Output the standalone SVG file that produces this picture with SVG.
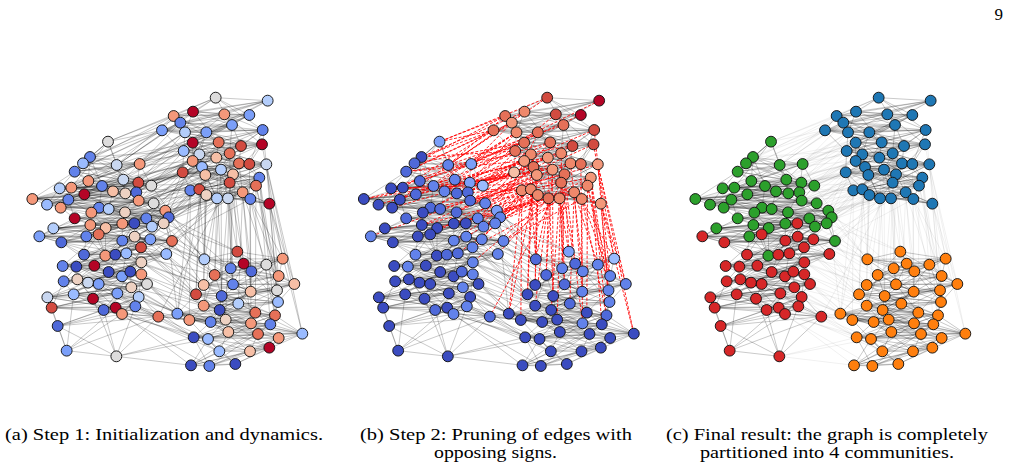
<svg xmlns="http://www.w3.org/2000/svg" xmlns:xlink="http://www.w3.org/1999/xlink" width="1010" height="470" viewBox="0 0 1010 470">
<style>
.nd{stroke:#111;stroke-width:2.8}
.k0{fill:#3b4cc0}.k1{fill:#4f69d9}.k2{fill:#6282ea}.k3{fill:#7b9ff9}.k4{fill:#9abbff}.k5{fill:#b3cdfb}.k6{fill:#c9d7f0}.k7{fill:#dddcdc}.k8{fill:#edd1c2}.k9{fill:#f6bfa6}.k10{fill:#f4987a}.q{fill:#ef886b}.k11{fill:#e57058}.k12{fill:#d24b40}.k13{fill:#b40426}
.cB{fill:#1f77b4}.cG{fill:#2ca02c}.cR{fill:#d62728}.cO{fill:#ff7f0e}
.e{fill:none;stroke:#000;stroke-opacity:.36;stroke-width:1.8}
.xr{fill:none;stroke:#f00;stroke-opacity:.95;stroke-width:2.7;stroke-dasharray:9 5}
.xf{fill:none;stroke:#000;stroke-opacity:.1;stroke-width:1.8}
.cap{font-family:"Liberation Serif","DejaVu Serif",serif;font-size:17px;fill:#000}
</style>
<defs>
<g id="eTR">
<path d="M596 38L752 47L528 80L470 93L622 88L697 90L490 113L645 120L435 136L504 142L568 142L737 135L527 173L605 172L672 183L735 178L500 198L547 208L638 205L527 228L598 218L666 235L697 237L748 238L555 246L612 254L648 268L497 262L565 270L727 278L638 293L717 302L520 316L547 313L568 330L600 340L633 340L677 322L700 342L757 356"/>
<path d="M596 38L528 80L622 88L490 113L435 136L568 142L527 173L672 183L500 198L638 205L598 218L697 237L555 246L648 268L565 270L638 293L520 316L568 330L633 340L700 342M752 47L470 93L697 90L645 120L504 142L737 135L605 172L735 178L547 208L527 228L666 235L748 238L612 254L497 262L727 278L717 302L547 313L600 340L677 322L757 356"/>
<path d="M596 38L470 93L490 113L504 142L527 173L735 178L638 205L666 235L555 246L497 262L638 293L547 313L633 340L757 356M752 47L622 88L645 120L568 142L605 172L500 198L527 228L697 237L612 254L565 270L717 302L568 330L677 322M528 80L697 90L435 136L737 135L672 183L547 208L598 218L748 238L648 268L727 278L520 316L600 340L700 342"/>
<path d="M596 38L697 90L568 142L735 178L598 218L612 254L638 293L600 340M752 47L490 113L737 135L500 198L666 235L648 268L717 302L633 340M528 80L645 120L527 173L547 208L697 237L497 262L520 316L677 322M470 93L435 136L605 172L638 205L748 238L565 270L547 313L700 342M622 88L504 142L672 183L527 228L555 246L727 278L568 330L757 356"/>
<path d="M596 38L645 120L672 183L666 235L565 270L600 340M752 47L435 136L735 178L697 237L727 278L633 340M528 80L504 142L500 198L748 238L638 293L677 322M470 93L568 142L547 208L555 246L717 302L700 342M622 88L737 135L638 205L612 254L520 316L757 356M697 90L527 173L527 228L648 268L547 313M490 113L605 172L598 218L497 262L568 330"/>
<path d="M596 38L737 135L697 237L547 313M752 47L527 173L748 238L568 330M528 80L605 172L555 246L600 340M470 93L672 183L612 254L633 340M622 88L735 178L648 268L677 322M697 90L500 198L497 262L700 342M490 113L547 208L565 270L757 356M645 120L638 205L727 278M435 136L527 228L638 293M504 142L598 218L717 302M568 142L666 235L520 316"/>
</g>
<g id="eO">
<path d="M661 500L562 523L680 536L797 521L641 550L703 559L748 539L593 570L785 573L648 598L560 600L832 597L701 620L780 616L614 633L537 628L783 651L664 656L560 662L608 675L715 683L774 691L481 686L517 705L581 711L626 704L702 715L760 718L856 746L634 741L723 747L530 757L573 762L785 759L607 799L699 799L757 788L522 841L577 843L655 837"/>
<path d="M661 500L680 536L641 550L748 539L785 573L560 600L701 620L614 633L783 651L560 662L715 683L481 686L581 711L702 715L856 746L723 747L573 762L607 799L757 788L577 843M562 523L797 521L703 559L593 570L648 598L832 597L780 616L537 628L664 656L608 675L774 691L517 705L626 704L760 718L634 741L530 757L785 759L699 799L522 841L655 837"/>
<path d="M661 500L797 521L748 539L648 598L701 620L537 628L560 662L774 691L581 711L760 718L723 747L785 759L757 788L655 837M562 523L641 550L593 570L560 600L780 616L783 651L608 675L481 686L626 704L856 746L530 757L607 799L522 841M680 536L703 559L785 573L832 597L614 633L664 656L715 683L517 705L702 715L634 741L573 762L699 799L577 843"/>
<path d="M661 500L703 559L560 600L537 628L715 683L626 704L723 747L699 799M562 523L748 539L832 597L783 651L774 691L702 715L530 757L757 788M680 536L593 570L701 620L664 656L481 686L760 718L573 762L522 841M797 521L785 573L780 616L560 662L517 705L856 746L785 759L577 843M641 550L648 598L614 633L608 675L581 711L634 741L607 799L655 837"/>
<path d="M661 500L593 570L614 633L774 691L856 746L699 799M562 523L785 573L537 628L481 686L634 741L757 788M680 536L648 598L783 651L517 705L723 747L522 841M797 521L560 600L664 656L581 711L530 757L577 843M641 550L832 597L560 662L626 704L573 762L655 837M703 559L701 620L608 675L702 715L785 759M748 539L780 616L715 683L760 718L607 799"/>
<path d="M661 500L832 597L481 686L785 759M562 523L701 620L517 705L607 799M680 536L780 616L581 711L699 799M797 521L614 633L626 704L757 788M641 550L537 628L702 715L522 841M703 559L783 651L760 718L577 843M748 539L664 656L856 746L655 837M593 570L560 662L634 741M785 573L608 675L723 747M648 598L715 683L530 757M560 600L774 691L573 762"/>
</g>
<g id="eL">
<path d="M273 170L219 216L198 235L299 240L368 237L173 260L214 288L319 284L364 293L403 302L128 310L163 308L255 303L288 319L325 325L358 322L46 342L90 359L154 344L202 328L365 347L410 355L131 368L246 368L275 372L223 383L324 382L445 377L455 397L173 400L388 400L440 415L220 420L316 416L405 425L109 430L266 429L208 454L465 468L265 512L67 454L245 448L352 415L133 472L316 467L353 455L400 463L372 487L201 509L295 509L328 505L448 507L137 543L178 545L232 542L373 532L275 561L315 574L340 560L373 568L140 589L181 583L213 593L245 597L390 597L343 607L91 637L170 628L228 641L301 625L365 636L104 668L260 675L296 668L355 664L315 687L424 695L122 723L149 797L298 814"/>
<path d="M273 170L198 235L368 237L214 288L364 293L128 310L255 303L325 325L46 342L154 344L365 347L131 368L275 372L324 382L455 397L388 400L220 420L405 425L266 429L465 468L67 454L352 415L316 467L400 463L201 509L328 505L137 543L232 542L275 561L340 560L140 589L213 593L390 597L91 637L228 641L365 636L260 675L355 664L424 695L149 797M219 216L299 240L173 260L319 284L403 302L163 308L288 319L358 322L90 359L202 328L410 355L246 368L223 383L445 377L173 400L440 415L316 416L109 430L208 454L265 512L245 448L133 472L353 455L372 487L295 509L448 507L178 545L373 532L315 574L373 568L181 583L245 597L343 607L170 628L301 625L104 668L296 668L315 687L122 723L298 814"/>
<path d="M273 170L299 240L214 288L403 302L255 303L358 322L154 344L410 355L275 372L445 377L388 400L316 416L266 429L265 512L352 415L353 455L201 509L448 507L232 542L315 574L140 589L245 597L91 637L301 625L260 675L315 687L149 797M219 216L368 237L319 284L128 310L288 319L46 342L202 328L131 368L223 383L455 397L440 415L405 425L208 454L67 454L133 472L400 463L295 509L137 543L373 532L340 560L181 583L390 597L170 628L365 636L296 668L424 695L298 814M198 235L173 260L364 293L163 308L325 325L90 359L365 347L246 368L324 382L173 400L220 420L109 430L465 468L245 448L316 467L372 487L328 505L178 545L275 561L373 568L213 593L343 607L228 641L104 668L355 664L122 723"/>
<path d="M273 170L173 260L128 310L358 322L365 347L223 383L388 400L109 430L67 454L353 455L328 505L373 532L140 589L343 607L365 636L315 687M219 216L214 288L163 308L46 342L410 355L324 382L440 415L266 429L245 448L400 463L448 507L275 561L181 583L91 637L104 668L424 695M198 235L319 284L255 303L90 359L131 368L445 377L220 420L208 454L352 415L372 487L137 543L315 574L213 593L170 628L260 675L122 723M299 240L364 293L288 319L154 344L246 368L455 397L316 416L465 468L133 472L201 509L178 545L340 560L245 597L228 641L296 668L149 797M368 237L403 302L325 325L202 328L275 372L173 400L405 425L265 512L316 467L295 509L232 542L373 568L390 597L301 625L355 664L298 814"/>
<path d="M273 170L319 284L325 325L410 355L455 397L109 430L352 415L295 509L275 561L245 597L365 636L122 723M219 216L364 293L358 322L131 368L173 400L266 429L133 472L328 505L315 574L390 597L104 668L149 797M198 235L403 302L46 342L246 368L388 400L208 454L316 467L448 507L340 560L343 607L260 675L298 814M299 240L128 310L90 359L275 372L440 415L465 468L353 455L137 543L373 568L91 637L296 668M368 237L163 308L154 344L223 383L220 420L265 512L400 463L178 545L140 589L170 628L355 664M173 260L255 303L202 328L324 382L316 416L67 454L372 487L232 542L181 583L228 641L315 687M214 288L288 319L365 347L445 377L405 425L245 448L201 509L373 532L213 593L301 625L424 695"/>
<path d="M273 170L163 308L131 368L316 416L316 467L373 532L91 637L122 723M219 216L255 303L246 368L405 425L353 455L275 561L170 628L149 797M198 235L288 319L275 372L109 430L400 463L315 574L228 641L298 814M299 240L325 325L223 383L266 429L372 487L340 560L301 625M368 237L358 322L324 382L208 454L201 509L373 568L365 636M173 260L46 342L445 377L465 468L295 509L140 589L104 668M214 288L90 359L455 397L265 512L328 505L181 583L260 675M319 284L154 344L173 400L67 454L448 507L213 593L296 668M364 293L202 328L388 400L245 448L137 543L245 597L355 664M403 302L365 347L440 415L352 415L178 545L390 597L315 687M128 310L410 355L220 420L133 472L232 542L343 607L424 695"/>
</g>
<path id="xTL" d="M435 136L273 170M470 93L273 170M490 113L299 240M504 142L368 237M500 198L219 216M527 173L198 235M527 228L173 260M497 262L364 293M555 246L403 302M520 316L163 308M547 208L403 302M565 270L255 303M547 313L325 325M598 218L358 322M568 330L365 347M612 254L410 355M600 340L445 377M638 293L128 310M648 268L455 397M638 205L324 382M666 235L202 328M605 172L388 400M568 142L440 415M528 80L154 344M633 340L316 416M677 322L405 425M700 342L465 468M748 238L275 372M727 278L246 368M697 237L46 342M520 316L245 448M568 330L353 455M600 340L448 507M555 246L352 415M565 270L400 463M547 313L372 487M497 262L131 368M527 228L90 359M638 293L424 695M612 254L220 420M717 302L266 429M500 198L288 319M527 173L214 288M435 136L173 260M504 142L202 328M547 208L223 383M697 90L368 237M645 120L299 240M737 135L364 293M672 183L403 302M735 178L365 347M596 38L273 170M596 38L299 240M752 47L368 237M528 80L219 216M470 93L198 235M622 88L364 293M490 113L173 260M435 136L219 216M435 136L163 308M504 142L255 303M568 142L319 284M527 173L128 310M605 172L288 319M500 198L154 344M500 198L403 302M547 208L358 322M527 228L325 325M527 228L410 355M598 218L246 368M555 246L202 328M497 262L403 302M497 262L365 347M497 262L445 377M565 270L324 382M520 316L445 377M520 316L388 400M520 316L440 415M547 313L405 425M568 330L220 420M600 340L266 429M555 246L388 400M612 254L455 397M638 293L440 415M633 340L465 468M568 330L328 505M600 340L373 532M547 313L316 467M565 270L67 454M638 205L255 303M672 183L173 260M697 237L364 293M648 268L365 347M727 278L405 425M717 302L352 415M677 322L372 487M598 218L46 342M605 172L128 310M504 142L364 293M490 113L368 237M470 93L299 240"/>
<path id="xTO" d="M600 340L562 523M633 340L661 500M638 293L680 536M677 322L748 539M700 342L797 521M757 356L832 597M717 302L785 573M727 278L780 616M648 268L641 550M612 254L593 570M568 330L560 600M565 270L481 686M666 235L703 559M697 237L701 620M748 238L783 651M735 178L797 521M737 135L785 573M638 205L648 598M598 218L614 633M555 246L537 628M700 342L774 691M757 356L856 746M717 302L715 683M677 322L664 656M633 340L608 675M600 340L560 662M727 278L760 718M638 293L626 704M648 268L702 715M748 238L832 597M520 316L517 705M547 313L562 523M568 330L562 523M520 316L481 686M600 340L593 570M633 340L648 598M700 342L785 573M757 356L783 651M677 322L701 620M638 293L641 550M717 302L780 616M727 278L774 691M748 238L856 746M565 270L560 600M547 313L537 628M612 254L614 633M648 268L661 500M700 342L702 715"/>
<path id="xLO" d="M445 377L481 686M455 397L562 523M465 468L560 600M448 507L537 628M424 695L481 686M424 695L517 705M372 487L560 662M373 532L560 600M373 568L537 628M390 597L481 686M365 636L530 757M355 664L517 705M315 687L522 841M298 814L522 841M298 814L530 757M260 675L573 762M343 607L560 662M328 505L593 570M400 463L562 523M440 415L661 500M405 425L641 550M353 455L537 628M316 467L614 633M301 625L581 711M390 597L634 741M296 668L607 799M410 355L562 523M403 302L593 570M352 415L648 598M315 574L608 675M228 641L577 843M91 637L517 705M178 545L481 686M213 593L530 757M316 416L560 600M295 509L517 705M275 561L481 686M465 468L562 523M448 507L560 600M400 463L593 570M372 487L537 628M373 532L560 662M390 597L517 705M424 695L530 757M424 695L581 711M365 636L481 686M355 664L573 762M315 687L530 757M298 814L573 762M343 607L481 686M373 568L560 662M455 397L661 500M440 415L593 570M445 377L641 550M328 505L537 628M353 455L562 523M295 509L560 600"/>
<g id="NT"><circle cx="596" cy="38" r="16.3"/><circle cx="752" cy="47" r="16.3"/><circle cx="528" cy="80" r="16.3"/><circle cx="470" cy="93" r="16.3"/><circle cx="622" cy="88" r="16.3"/><circle cx="697" cy="90" r="16.3"/><circle cx="490" cy="113" r="16.3"/><circle cx="645" cy="120" r="16.3"/><circle cx="435" cy="136" r="16.3"/><circle cx="504" cy="142" r="16.3"/><circle cx="568" cy="142" r="16.3"/><circle cx="737" cy="135" r="16.3"/><circle cx="527" cy="173" r="16.3"/><circle cx="605" cy="172" r="16.3"/><circle cx="672" cy="183" r="16.3"/><circle cx="735" cy="178" r="16.3"/><circle cx="500" cy="198" r="16.3"/><circle cx="547" cy="208" r="16.3"/><circle cx="638" cy="205" r="16.3"/><circle cx="527" cy="228" r="16.3"/><circle cx="598" cy="218" r="16.3"/><circle cx="666" cy="235" r="16.3"/><circle cx="697" cy="237" r="16.3"/><circle cx="748" cy="238" r="16.3"/><circle cx="555" cy="246" r="16.3"/><circle cx="612" cy="254" r="16.3"/><circle cx="648" cy="268" r="16.3"/><circle cx="497" cy="262" r="16.3"/><circle cx="565" cy="270" r="16.3"/><circle cx="727" cy="278" r="16.3"/><circle cx="638" cy="293" r="16.3"/><circle cx="717" cy="302" r="16.3"/><circle cx="520" cy="316" r="16.3"/><circle cx="547" cy="313" r="16.3"/><circle cx="568" cy="330" r="16.3"/><circle cx="600" cy="340" r="16.3"/><circle cx="633" cy="340" r="16.3"/><circle cx="677" cy="322" r="16.3"/><circle cx="700" cy="342" r="16.3"/><circle cx="757" cy="356" r="16.3"/></g>
<g id="NG"><circle cx="273" cy="170" r="16.3"/><circle cx="219" cy="216" r="16.3"/><circle cx="198" cy="235" r="16.3"/><circle cx="299" cy="240" r="16.3"/><circle cx="368" cy="237" r="16.3"/><circle cx="173" cy="260" r="16.3"/><circle cx="214" cy="288" r="16.3"/><circle cx="319" cy="284" r="16.3"/><circle cx="364" cy="293" r="16.3"/><circle cx="403" cy="302" r="16.3"/><circle cx="128" cy="310" r="16.3"/><circle cx="163" cy="308" r="16.3"/><circle cx="255" cy="303" r="16.3"/><circle cx="288" cy="319" r="16.3"/><circle cx="325" cy="325" r="16.3"/><circle cx="358" cy="322" r="16.3"/><circle cx="46" cy="342" r="16.3"/><circle cx="90" cy="359" r="16.3"/><circle cx="154" cy="344" r="16.3"/><circle cx="202" cy="328" r="16.3"/><circle cx="365" cy="347" r="16.3"/><circle cx="410" cy="355" r="16.3"/><circle cx="131" cy="368" r="16.3"/><circle cx="246" cy="368" r="16.3"/><circle cx="275" cy="372" r="16.3"/><circle cx="223" cy="383" r="16.3"/><circle cx="324" cy="382" r="16.3"/><circle cx="445" cy="377" r="16.3"/><circle cx="455" cy="397" r="16.3"/><circle cx="173" cy="400" r="16.3"/><circle cx="388" cy="400" r="16.3"/><circle cx="440" cy="415" r="16.3"/><circle cx="220" cy="420" r="16.3"/><circle cx="316" cy="416" r="16.3"/><circle cx="405" cy="425" r="16.3"/><circle cx="109" cy="430" r="16.3"/><circle cx="266" cy="429" r="16.3"/><circle cx="208" cy="454" r="16.3"/><circle cx="465" cy="468" r="16.3"/><circle cx="265" cy="512" r="16.3"/></g>
<g id="NR"><circle cx="67" cy="454" r="16.3"/><circle cx="245" cy="448" r="16.3"/><circle cx="352" cy="415" r="16.3"/><circle cx="133" cy="472" r="16.3"/><circle cx="316" cy="467" r="16.3"/><circle cx="353" cy="455" r="16.3"/><circle cx="400" cy="463" r="16.3"/><circle cx="372" cy="487" r="16.3"/><circle cx="201" cy="509" r="16.3"/><circle cx="295" cy="509" r="16.3"/><circle cx="328" cy="505" r="16.3"/><circle cx="448" cy="507" r="16.3"/><circle cx="137" cy="543" r="16.3"/><circle cx="178" cy="545" r="16.3"/><circle cx="232" cy="542" r="16.3"/><circle cx="373" cy="532" r="16.3"/><circle cx="275" cy="561" r="16.3"/><circle cx="315" cy="574" r="16.3"/><circle cx="340" cy="560" r="16.3"/><circle cx="373" cy="568" r="16.3"/><circle cx="140" cy="589" r="16.3"/><circle cx="181" cy="583" r="16.3"/><circle cx="213" cy="593" r="16.3"/><circle cx="245" cy="597" r="16.3"/><circle cx="390" cy="597" r="16.3"/><circle cx="343" cy="607" r="16.3"/><circle cx="91" cy="637" r="16.3"/><circle cx="170" cy="628" r="16.3"/><circle cx="228" cy="641" r="16.3"/><circle cx="301" cy="625" r="16.3"/><circle cx="365" cy="636" r="16.3"/><circle cx="104" cy="668" r="16.3"/><circle cx="260" cy="675" r="16.3"/><circle cx="296" cy="668" r="16.3"/><circle cx="355" cy="664" r="16.3"/><circle cx="315" cy="687" r="16.3"/><circle cx="424" cy="695" r="16.3"/><circle cx="122" cy="723" r="16.3"/><circle cx="149" cy="797" r="16.3"/><circle cx="298" cy="814" r="16.3"/></g>
<g id="NO"><circle cx="661" cy="500" r="16.3"/><circle cx="562" cy="523" r="16.3"/><circle cx="680" cy="536" r="16.3"/><circle cx="797" cy="521" r="16.3"/><circle cx="641" cy="550" r="16.3"/><circle cx="703" cy="559" r="16.3"/><circle cx="748" cy="539" r="16.3"/><circle cx="593" cy="570" r="16.3"/><circle cx="785" cy="573" r="16.3"/><circle cx="648" cy="598" r="16.3"/><circle cx="560" cy="600" r="16.3"/><circle cx="832" cy="597" r="16.3"/><circle cx="701" cy="620" r="16.3"/><circle cx="780" cy="616" r="16.3"/><circle cx="614" cy="633" r="16.3"/><circle cx="537" cy="628" r="16.3"/><circle cx="783" cy="651" r="16.3"/><circle cx="664" cy="656" r="16.3"/><circle cx="560" cy="662" r="16.3"/><circle cx="608" cy="675" r="16.3"/><circle cx="715" cy="683" r="16.3"/><circle cx="774" cy="691" r="16.3"/><circle cx="481" cy="686" r="16.3"/><circle cx="517" cy="705" r="16.3"/><circle cx="581" cy="711" r="16.3"/><circle cx="626" cy="704" r="16.3"/><circle cx="702" cy="715" r="16.3"/><circle cx="760" cy="718" r="16.3"/><circle cx="856" cy="746" r="16.3"/><circle cx="634" cy="741" r="16.3"/><circle cx="723" cy="747" r="16.3"/><circle cx="530" cy="757" r="16.3"/><circle cx="573" cy="762" r="16.3"/><circle cx="785" cy="759" r="16.3"/><circle cx="607" cy="799" r="16.3"/><circle cx="699" cy="799" r="16.3"/><circle cx="757" cy="788" r="16.3"/><circle cx="522" cy="841" r="16.3"/><circle cx="577" cy="843" r="16.3"/><circle cx="655" cy="837" r="16.3"/></g>
</defs>
<rect width="1010" height="470" fill="#fff"/>
<text x="1003" y="20" text-anchor="end" class="cap" font-family="Liberation Serif, DejaVu Serif, serif">9</text>

<g id="panel-a" transform="translate(17,85) scale(0.33333)">
<g id="a-connectors" class="e"><use href="#eTR"/><use href="#eL"/><use href="#eO"/><use href="#xTL"/><use href="#xTO"/><use href="#xLO"/></g>
<g id="a-nodes" class="nd">
<circle cx="596" cy="38" r="16.3" class="k7"/><circle cx="752" cy="47" r="16.3" class="k5"/><circle cx="528" cy="80" r="16.3" class="k13"/><circle cx="470" cy="93" r="16.3" class="k10"/><circle cx="622" cy="88" r="16.3" class="k10"/><circle cx="697" cy="90" r="16.3" class="k3"/><circle cx="490" cy="113" r="16.3" class="k2"/><circle cx="645" cy="120" r="16.3" class="k3"/><circle cx="435" cy="136" r="16.3" class="k3"/><circle cx="504" cy="142" r="16.3" class="k5"/><circle cx="568" cy="142" r="16.3" class="k3"/><circle cx="737" cy="135" r="16.3" class="k2"/><circle cx="527" cy="173" r="16.3" class="k13"/><circle cx="605" cy="172" r="16.3" class="k11"/><circle cx="672" cy="183" r="16.3" class="k12"/><circle cx="735" cy="178" r="16.3" class="k13"/><circle cx="500" cy="198" r="16.3" class="k4"/><circle cx="547" cy="208" r="16.3" class="k6"/><circle cx="638" cy="205" r="16.3" class="k11"/><circle cx="527" cy="228" r="16.3" class="k10"/><circle cx="598" cy="218" r="16.3" class="k9"/><circle cx="666" cy="235" r="16.3" class="k11"/><circle cx="697" cy="237" r="16.3" class="k12"/><circle cx="748" cy="238" r="16.3" class="k6"/><circle cx="555" cy="246" r="16.3" class="k4"/><circle cx="612" cy="254" r="16.3" class="k5"/><circle cx="648" cy="268" r="16.3" class="k9"/><circle cx="497" cy="262" r="16.3" class="k12"/><circle cx="565" cy="270" r="16.3" class="k9"/><circle cx="727" cy="278" r="16.3" class="k2"/><circle cx="638" cy="293" r="16.3" class="k12"/><circle cx="717" cy="302" r="16.3" class="k11"/><circle cx="520" cy="316" r="16.3" class="k2"/><circle cx="547" cy="313" r="16.3" class="k12"/><circle cx="568" cy="330" r="16.3" class="k8"/><circle cx="600" cy="340" r="16.3" class="k5"/><circle cx="633" cy="340" r="16.3" class="k6"/><circle cx="677" cy="322" r="16.3" class="k10"/><circle cx="700" cy="342" r="16.3" class="k2"/><circle cx="757" cy="356" r="16.3" class="k13"/>
<circle cx="273" cy="170" r="16.3" class="k7"/><circle cx="219" cy="216" r="16.3" class="k2"/><circle cx="198" cy="235" r="16.3" class="k4"/><circle cx="299" cy="240" r="16.3" class="k6"/><circle cx="368" cy="237" r="16.3" class="k10"/><circle cx="173" cy="260" r="16.3" class="k2"/><circle cx="214" cy="288" r="16.3" class="k10"/><circle cx="319" cy="284" r="16.3" class="k6"/><circle cx="364" cy="293" r="16.3" class="k12"/><circle cx="403" cy="302" r="16.3" class="k7"/><circle cx="128" cy="310" r="16.3" class="k5"/><circle cx="163" cy="308" r="16.3" class="k10"/><circle cx="255" cy="303" r="16.3" class="k2"/><circle cx="288" cy="319" r="16.3" class="k9"/><circle cx="325" cy="325" r="16.3" class="k8"/><circle cx="358" cy="322" r="16.3" class="k1"/><circle cx="46" cy="342" r="16.3" class="k10"/><circle cx="90" cy="359" r="16.3" class="k4"/><circle cx="154" cy="344" r="16.3" class="k2"/><circle cx="202" cy="328" r="16.3" class="k13"/><circle cx="365" cy="347" r="16.3" class="k10"/><circle cx="410" cy="355" r="16.3" class="k7"/><circle cx="131" cy="368" r="16.3" class="k10"/><circle cx="246" cy="368" r="16.3" class="k2"/><circle cx="275" cy="372" r="16.3" class="k5"/><circle cx="223" cy="383" r="16.3" class="k10"/><circle cx="324" cy="382" r="16.3" class="k8"/><circle cx="445" cy="377" r="16.3" class="k10"/><circle cx="455" cy="397" r="16.3" class="k1"/><circle cx="173" cy="400" r="16.3" class="k13"/><circle cx="388" cy="400" r="16.3" class="k2"/><circle cx="440" cy="415" r="16.3" class="k8"/><circle cx="220" cy="420" r="16.3" class="k10"/><circle cx="316" cy="416" r="16.3" class="k10"/><circle cx="405" cy="425" r="16.3" class="k5"/><circle cx="109" cy="430" r="16.3" class="k5"/><circle cx="266" cy="429" r="16.3" class="k9"/><circle cx="208" cy="454" r="16.3" class="k2"/><circle cx="465" cy="468" r="16.3" class="k11"/><circle cx="265" cy="512" r="16.3" class="k10"/>
<circle cx="67" cy="454" r="16.3" class="k3"/><circle cx="245" cy="448" r="16.3" class="k11"/><circle cx="352" cy="415" r="16.3" class="k0"/><circle cx="133" cy="472" r="16.3" class="k1"/><circle cx="316" cy="467" r="16.3" class="k2"/><circle cx="353" cy="455" r="16.3" class="k8"/><circle cx="400" cy="463" r="16.3" class="k3"/><circle cx="372" cy="487" r="16.3" class="k12"/><circle cx="201" cy="509" r="16.3" class="k1"/><circle cx="295" cy="509" r="16.3" class="k0"/><circle cx="328" cy="505" r="16.3" class="k4"/><circle cx="448" cy="507" r="16.3" class="k4"/><circle cx="137" cy="543" r="16.3" class="k2"/><circle cx="178" cy="545" r="16.3" class="k0"/><circle cx="232" cy="542" r="16.3" class="k13"/><circle cx="373" cy="532" r="16.3" class="k8"/><circle cx="275" cy="561" r="16.3" class="k0"/><circle cx="315" cy="574" r="16.3" class="k3"/><circle cx="340" cy="560" r="16.3" class="k0"/><circle cx="373" cy="568" r="16.3" class="k10"/><circle cx="140" cy="589" r="16.3" class="k2"/><circle cx="181" cy="583" r="16.3" class="k8"/><circle cx="213" cy="593" r="16.3" class="k6"/><circle cx="245" cy="597" r="16.3" class="k3"/><circle cx="390" cy="597" r="16.3" class="k7"/><circle cx="343" cy="607" r="16.3" class="k8"/><circle cx="91" cy="637" r="16.3" class="k6"/><circle cx="170" cy="628" r="16.3" class="k4"/><circle cx="228" cy="641" r="16.3" class="k13"/><circle cx="301" cy="625" r="16.3" class="k3"/><circle cx="365" cy="636" r="16.3" class="k5"/><circle cx="104" cy="668" r="16.3" class="k12"/><circle cx="260" cy="675" r="16.3" class="k1"/><circle cx="296" cy="668" r="16.3" class="k13"/><circle cx="355" cy="664" r="16.3" class="k2"/><circle cx="315" cy="687" r="16.3" class="k10"/><circle cx="424" cy="695" r="16.3" class="k11"/><circle cx="122" cy="723" r="16.3" class="k1"/><circle cx="149" cy="797" r="16.3" class="k3"/><circle cx="298" cy="814" r="16.3" class="k7"/>
<circle cx="661" cy="500" r="16.3" class="k12"/><circle cx="562" cy="523" r="16.3" class="k5"/><circle cx="680" cy="536" r="16.3" class="k13"/><circle cx="797" cy="521" r="16.3" class="k10"/><circle cx="641" cy="550" r="16.3" class="k2"/><circle cx="703" cy="559" r="16.3" class="k1"/><circle cx="748" cy="539" r="16.3" class="k7"/><circle cx="593" cy="570" r="16.3" class="k11"/><circle cx="785" cy="573" r="16.3" class="k10"/><circle cx="648" cy="598" r="16.3" class="k2"/><circle cx="560" cy="600" r="16.3" class="k9"/><circle cx="832" cy="597" r="16.3" class="k9"/><circle cx="701" cy="620" r="16.3" class="k9"/><circle cx="780" cy="616" r="16.3" class="k7"/><circle cx="614" cy="633" r="16.3" class="k1"/><circle cx="537" cy="628" r="16.3" class="k12"/><circle cx="783" cy="651" r="16.3" class="k4"/><circle cx="664" cy="656" r="16.3" class="k5"/><circle cx="560" cy="662" r="16.3" class="k10"/><circle cx="608" cy="675" r="16.3" class="k0"/><circle cx="715" cy="683" r="16.3" class="k11"/><circle cx="774" cy="691" r="16.3" class="k11"/><circle cx="481" cy="686" r="16.3" class="k3"/><circle cx="517" cy="705" r="16.3" class="k10"/><circle cx="581" cy="711" r="16.3" class="k2"/><circle cx="626" cy="704" r="16.3" class="k8"/><circle cx="702" cy="715" r="16.3" class="k10"/><circle cx="760" cy="718" r="16.3" class="k2"/><circle cx="856" cy="746" r="16.3" class="k4"/><circle cx="634" cy="741" r="16.3" class="k9"/><circle cx="723" cy="747" r="16.3" class="k11"/><circle cx="530" cy="757" r="16.3" class="k0"/><circle cx="573" cy="762" r="16.3" class="k4"/><circle cx="785" cy="759" r="16.3" class="k10"/><circle cx="607" cy="799" r="16.3" class="k4"/><circle cx="699" cy="799" r="16.3" class="k9"/><circle cx="757" cy="788" r="16.3" class="k13"/><circle cx="522" cy="841" r="16.3" class="k0"/><circle cx="577" cy="843" r="16.3" class="k2"/><circle cx="655" cy="837" r="16.3" class="k0"/>
</g>
</g>

<g id="panel-b" transform="translate(348.5,85) scale(0.33333)">
<g id="b-connectors"><g class="e"><use href="#eTR"/><use href="#eL"/><use href="#eO"/><use href="#xLO"/></g><g class="xr"><use href="#xTL"/><use href="#xTO"/></g></g>
<g id="b-nodes" class="nd">
<circle cx="596" cy="38" r="16.3" class="k12"/><circle cx="752" cy="47" r="16.3" class="k13"/><circle cx="528" cy="80" r="16.3" class="q"/><circle cx="470" cy="93" r="16.3" class="k11"/><circle cx="622" cy="88" r="16.3" class="k12"/><circle cx="697" cy="90" r="16.3" class="k13"/><circle cx="490" cy="113" r="16.3" class="k10"/><circle cx="645" cy="120" r="16.3" class="k11"/><circle cx="435" cy="136" r="16.3" class="k11"/><circle cx="504" cy="142" r="16.3" class="q"/><circle cx="568" cy="142" r="16.3" class="k11"/><circle cx="737" cy="135" r="16.3" class="k12"/><circle cx="527" cy="173" r="16.3" class="k11"/><circle cx="605" cy="172" r="16.3" class="k11"/><circle cx="672" cy="183" r="16.3" class="k12"/><circle cx="735" cy="178" r="16.3" class="k12"/><circle cx="500" cy="198" r="16.3" class="k11"/><circle cx="547" cy="208" r="16.3" class="q"/><circle cx="638" cy="205" r="16.3" class="q"/><circle cx="527" cy="228" r="16.3" class="k10"/><circle cx="598" cy="218" r="16.3" class="k10"/><circle cx="666" cy="235" r="16.3" class="q"/><circle cx="697" cy="237" r="16.3" class="k11"/><circle cx="748" cy="238" r="16.3" class="k10"/><circle cx="555" cy="246" r="16.3" class="k11"/><circle cx="612" cy="254" r="16.3" class="k10"/><circle cx="648" cy="268" r="16.3" class="k11"/><circle cx="497" cy="262" r="16.3" class="k9"/><circle cx="565" cy="270" r="16.3" class="k10"/><circle cx="727" cy="278" r="16.3" class="k10"/><circle cx="638" cy="293" r="16.3" class="k11"/><circle cx="717" cy="302" r="16.3" class="q"/><circle cx="520" cy="316" r="16.3" class="q"/><circle cx="547" cy="313" r="16.3" class="q"/><circle cx="568" cy="330" r="16.3" class="q"/><circle cx="600" cy="340" r="16.3" class="k11"/><circle cx="633" cy="340" r="16.3" class="q"/><circle cx="677" cy="322" r="16.3" class="q"/><circle cx="700" cy="342" r="16.3" class="q"/><circle cx="757" cy="356" r="16.3" class="k10"/>
<circle cx="273" cy="170" r="16.3" class="k3"/><circle cx="219" cy="216" r="16.3" class="k0"/><circle cx="198" cy="235" r="16.3" class="k1"/><circle cx="299" cy="240" r="16.3" class="k2"/><circle cx="368" cy="237" r="16.3" class="k3"/><circle cx="173" cy="260" r="16.3" class="k1"/><circle cx="214" cy="288" r="16.3" class="k1"/><circle cx="319" cy="284" r="16.3" class="k2"/><circle cx="364" cy="293" r="16.3" class="k3"/><circle cx="403" cy="302" r="16.3" class="k4"/><circle cx="128" cy="310" r="16.3" class="k0"/><circle cx="163" cy="308" r="16.3" class="k0"/><circle cx="255" cy="303" r="16.3" class="k2"/><circle cx="288" cy="319" r="16.3" class="k2"/><circle cx="325" cy="325" r="16.3" class="k1"/><circle cx="358" cy="322" r="16.3" class="k1"/><circle cx="46" cy="342" r="16.3" class="k0"/><circle cx="90" cy="359" r="16.3" class="k0"/><circle cx="154" cy="344" r="16.3" class="k0"/><circle cx="202" cy="328" r="16.3" class="k1"/><circle cx="365" cy="347" r="16.3" class="k1"/><circle cx="410" cy="355" r="16.3" class="k2"/><circle cx="131" cy="368" r="16.3" class="k0"/><circle cx="246" cy="368" r="16.3" class="k1"/><circle cx="275" cy="372" r="16.3" class="k1"/><circle cx="223" cy="383" r="16.3" class="k0"/><circle cx="324" cy="382" r="16.3" class="k1"/><circle cx="445" cy="377" r="16.3" class="k3"/><circle cx="455" cy="397" r="16.3" class="k2"/><circle cx="173" cy="400" r="16.3" class="k1"/><circle cx="388" cy="400" r="16.3" class="k2"/><circle cx="440" cy="415" r="16.3" class="k2"/><circle cx="220" cy="420" r="16.3" class="k0"/><circle cx="316" cy="416" r="16.3" class="k0"/><circle cx="405" cy="425" r="16.3" class="k2"/><circle cx="109" cy="430" r="16.3" class="k0"/><circle cx="266" cy="429" r="16.3" class="k0"/><circle cx="208" cy="454" r="16.3" class="k0"/><circle cx="465" cy="468" r="16.3" class="k2"/><circle cx="265" cy="512" r="16.3" class="k0"/>
<circle cx="67" cy="454" r="16.3" class="k2"/><circle cx="245" cy="448" r="16.3" class="k0"/><circle cx="352" cy="415" r="16.3" class="k0"/><circle cx="133" cy="472" r="16.3" class="k0"/><circle cx="316" cy="467" r="16.3" class="k2"/><circle cx="353" cy="455" r="16.3" class="k2"/><circle cx="400" cy="463" r="16.3" class="k2"/><circle cx="372" cy="487" r="16.3" class="k2"/><circle cx="201" cy="509" r="16.3" class="k2"/><circle cx="295" cy="509" r="16.3" class="k1"/><circle cx="328" cy="505" r="16.3" class="k1"/><circle cx="448" cy="507" r="16.3" class="k2"/><circle cx="137" cy="543" r="16.3" class="k0"/><circle cx="178" cy="545" r="16.3" class="k2"/><circle cx="232" cy="542" r="16.3" class="k0"/><circle cx="373" cy="532" r="16.3" class="k2"/><circle cx="275" cy="561" r="16.3" class="k0"/><circle cx="315" cy="574" r="16.3" class="k0"/><circle cx="340" cy="560" r="16.3" class="k1"/><circle cx="373" cy="568" r="16.3" class="k2"/><circle cx="140" cy="589" r="16.3" class="k0"/><circle cx="181" cy="583" r="16.3" class="k0"/><circle cx="213" cy="593" r="16.3" class="k0"/><circle cx="245" cy="597" r="16.3" class="k0"/><circle cx="390" cy="597" r="16.3" class="k0"/><circle cx="343" cy="607" r="16.3" class="k2"/><circle cx="91" cy="637" r="16.3" class="k0"/><circle cx="170" cy="628" r="16.3" class="k0"/><circle cx="228" cy="641" r="16.3" class="k0"/><circle cx="301" cy="625" r="16.3" class="k0"/><circle cx="365" cy="636" r="16.3" class="k0"/><circle cx="104" cy="668" r="16.3" class="k0"/><circle cx="260" cy="675" r="16.3" class="k1"/><circle cx="296" cy="668" r="16.3" class="k0"/><circle cx="355" cy="664" r="16.3" class="k2"/><circle cx="315" cy="687" r="16.3" class="k2"/><circle cx="424" cy="695" r="16.3" class="k1"/><circle cx="122" cy="723" r="16.3" class="k0"/><circle cx="149" cy="797" r="16.3" class="k0"/><circle cx="298" cy="814" r="16.3" class="k0"/>
<circle cx="661" cy="500" r="16.3" class="k3"/><circle cx="562" cy="523" r="16.3" class="k1"/><circle cx="680" cy="536" r="16.3" class="k1"/><circle cx="797" cy="521" r="16.3" class="k4"/><circle cx="641" cy="550" r="16.3" class="k2"/><circle cx="703" cy="559" r="16.3" class="k2"/><circle cx="748" cy="539" r="16.3" class="k2"/><circle cx="593" cy="570" r="16.3" class="k1"/><circle cx="785" cy="573" r="16.3" class="k2"/><circle cx="648" cy="598" r="16.3" class="k1"/><circle cx="560" cy="600" r="16.3" class="k0"/><circle cx="832" cy="597" r="16.3" class="k2"/><circle cx="701" cy="620" r="16.3" class="k2"/><circle cx="780" cy="616" r="16.3" class="k2"/><circle cx="614" cy="633" r="16.3" class="k0"/><circle cx="537" cy="628" r="16.3" class="k0"/><circle cx="783" cy="651" r="16.3" class="k2"/><circle cx="664" cy="656" r="16.3" class="k1"/><circle cx="560" cy="662" r="16.3" class="k0"/><circle cx="608" cy="675" r="16.3" class="k0"/><circle cx="715" cy="683" r="16.3" class="k0"/><circle cx="774" cy="691" r="16.3" class="k1"/><circle cx="481" cy="686" r="16.3" class="k0"/><circle cx="517" cy="705" r="16.3" class="k0"/><circle cx="581" cy="711" r="16.3" class="k0"/><circle cx="626" cy="704" r="16.3" class="k0"/><circle cx="702" cy="715" r="16.3" class="k2"/><circle cx="760" cy="718" r="16.3" class="k0"/><circle cx="856" cy="746" r="16.3" class="k0"/><circle cx="634" cy="741" r="16.3" class="k0"/><circle cx="723" cy="747" r="16.3" class="k0"/><circle cx="530" cy="757" r="16.3" class="k0"/><circle cx="573" cy="762" r="16.3" class="k0"/><circle cx="785" cy="759" r="16.3" class="k0"/><circle cx="607" cy="799" r="16.3" class="k0"/><circle cx="699" cy="799" r="16.3" class="k0"/><circle cx="757" cy="788" r="16.3" class="k0"/><circle cx="522" cy="841" r="16.3" class="k0"/><circle cx="577" cy="843" r="16.3" class="k0"/><circle cx="655" cy="837" r="16.3" class="k0"/>
</g>
</g>

<g id="panel-c" transform="translate(680,85) scale(0.33333)">
<g id="c-connectors"><g class="xf"><use href="#xTL"/><use href="#xTO"/><use href="#xLO"/></g><g class="e"><use href="#eTR"/><use href="#eL"/><use href="#eO"/></g></g>
<g id="c-nodes">
<use id="c-blue" href="#NT" class="nd cB"/>
<use id="c-green" href="#NG" class="nd cG"/>
<use id="c-red" href="#NR" class="nd cR"/>
<use id="c-orange" href="#NO" class="nd cO"/>
</g>
</g>

<g id="captions" font-family="Liberation Serif, DejaVu Serif, serif">
<text x="5" y="440" class="cap" textLength="318" lengthAdjust="spacingAndGlyphs">(a) Step 1: Initialization and dynamics.</text>
<text x="360" y="440" class="cap" textLength="272" lengthAdjust="spacingAndGlyphs">(b) Step 2: Pruning of edges with</text>
<text x="434" y="458" class="cap" textLength="123" lengthAdjust="spacingAndGlyphs">opposing signs.</text>
<text x="666" y="440" class="cap" textLength="322" lengthAdjust="spacingAndGlyphs">(c) Final result: the graph is completely</text>
<text x="700" y="458" class="cap" textLength="254" lengthAdjust="spacingAndGlyphs">partitioned into 4 communities.</text>
</g>
</svg>
